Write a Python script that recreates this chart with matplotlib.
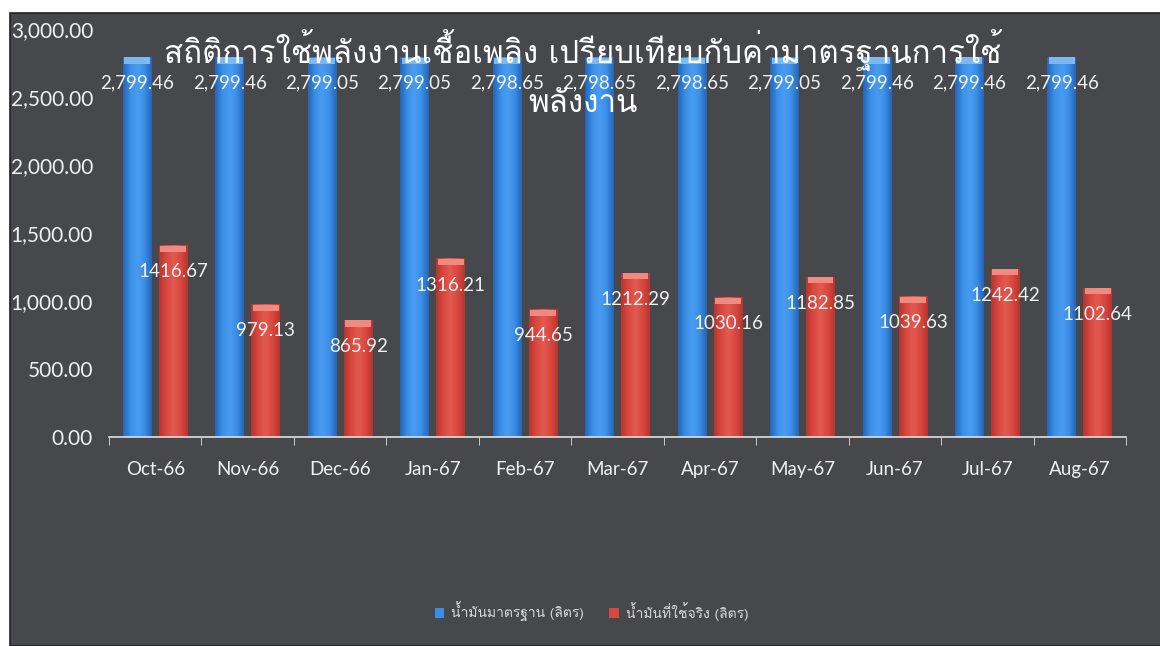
import matplotlib
matplotlib.use('Agg')
import matplotlib.pyplot as plt
import numpy as np
from matplotlib import font_manager
from matplotlib.ft2font import FT2Font
from matplotlib.patches import Rectangle
from matplotlib.colors import LinearSegmentedColormap

months = ['Oct-66', 'Nov-66', 'Dec-66', 'Jan-67', 'Feb-67', 'Mar-67',
          'Apr-67', 'May-67', 'Jun-67', 'Jul-67', 'Aug-67']
standard = [2799.46, 2799.46, 2799.05, 2799.05, 2798.65, 2798.65,
            2798.65, 2799.05, 2799.46, 2799.46, 2799.46]
actual = [1416.67, 979.13, 865.92, 1316.21, 944.65, 1212.29,
          1030.16, 1182.85, 1039.63, 1242.42, 1102.64]
yticks = [0, 500, 1000, 1500, 2000, 2500, 3000]

title_lines = ['สถิติการใช้พลังงานเชื้อเพลิง เปรียบเทียบกับค่ามาตรฐานการใช้', 'พลังงาน']
legend_names = ['น้ำมันมาตรฐาน (ลิตร)', 'น้ำมันที่ใช้จริง (ลิตร)']


# หา font ที่มีอักษรไทย (ชอบแบบมีหัว)
def thai_fonts():
    names = []
    for f in font_manager.fontManager.ttflist:
        try:
            if 0x0E2A in FT2Font(f.fname).get_charmap() and f.name not in names:
                names.append(f.name)
        except Exception:
            pass
    return names


found = thai_fonts()
thai = 'DejaVu Sans'
for pref in ['Loma', 'Garuda', 'Norasi', 'Noto Sans Thai Looped', 'Noto Sans Thai']:
    if pref in found:
        thai = pref
        break
else:
    if found:
        thai = found[0]
thai_fam = [thai, 'DejaVu Sans']
lat_fam = ['Lato', 'DejaVu Sans']

bg = '#46484c'
txt = '#f0f0f0'
blue_cm = LinearSegmentedColormap.from_list('b', ['#2566b8', '#3a8ee6', '#4a9cf0', '#3a8ee6', '#2566b8'])
red_cm = LinearSegmentedColormap.from_list('r', ['#b8352f', '#d9483f', '#e25a50', '#d9483f', '#b8352f'])

fig = plt.figure(figsize=(11.6, 6.46), dpi=100)
fig.patch.set_facecolor('white')
fig.patches.append(Rectangle((10 / 1160, 0), 1, 633 / 646, transform=fig.transFigure,
                             facecolor=bg, edgecolor='#222222', linewidth=1.2, zorder=-10))

ax = fig.add_axes([0.094, 0.3228, 0.8767, 0.6315])
ax.set_facecolor('none')

x = np.arange(len(months))
w = 0.31
off = 0.195
b1 = ax.bar(x - off, standard, w, color='#3a8ee6', zorder=2)
b2 = ax.bar(x + off, actual, w, color='#d9483f', zorder=2)

# ไล่สีให้ดูเป็นทรงกระบอก
grad = np.linspace(0, 1, 64).reshape(1, -1)
for bars, cm, cap in [(b1, blue_cm, '#7db8f2'), (b2, red_cm, '#f08a80')]:
    for r in bars:
        x0, h, bw = r.get_x(), r.get_height(), r.get_width()
        im = ax.imshow(grad, cmap=cm, aspect='auto', extent=(x0, x0 + bw, 0, h), zorder=2.5)
        im.set_clip_path(r)
        ax.bar(x0 + bw / 2, 45, bw * 0.9, bottom=h - 50, color=cap, zorder=3)

for xi, v in zip(x, standard):
    ax.text(xi - off, v - 190, f'{v:,.2f}', ha='center', va='center',
            color=txt, fontsize=13.5, family=lat_fam, zorder=5)
for xi, v in zip(x, actual):
    ax.text(xi + off, v - 195, f'{v:.2f}', ha='center', va='center',
            color=txt, fontsize=13.5, family=lat_fam, zorder=5)

ax.set_xlim(-0.5, len(months) - 0.5)
ax.set_ylim(0, 3000)
ax.set_yticks(yticks)
ax.set_yticklabels([f'{t:,.2f}' for t in yticks], family=lat_fam, fontsize=15, color=txt)
ax.set_xticks(x)
ax.set_xticklabels(months, family=lat_fam, fontsize=13.5, color=txt)
ax.set_xticks(np.arange(len(months) + 1) - 0.5, minor=True)
ax.tick_params(axis='x', which='major', length=0, pad=17)
ax.tick_params(axis='x', which='minor', length=6, color='#e0e0e0', direction='out')
ax.tick_params(axis='y', length=0, pad=11.5)
for s in ['top', 'right', 'left']:
    ax.spines[s].set_visible(False)
ax.spines['bottom'].set_color('#e0e0e0')
ax.spines['bottom'].set_linewidth(1.2)

fig.text(0.5026, 1 - 63 / 646, title_lines[0], ha='center', va='baseline', color='white',
         fontsize=22.5, family=thai_fam, zorder=6)
fig.text(0.5026, 1 - 112 / 646, title_lines[1], ha='center', va='baseline', color='white',
         fontsize=22.5, family=thai_fam, zorder=6)

leg = fig.legend([b1, b2], legend_names, loc='center', bbox_to_anchor=(0.51, 0.053),
                 ncol=2, frameon=False, prop={'family': thai_fam, 'size': 10},
                 handlelength=0.7, handleheight=0.7, columnspacing=1.8, handletextpad=0.5)
for t in leg.get_texts():
    t.set_color('#d8d8d8')

fig.savefig('out.png', dpi=100, facecolor=fig.get_facecolor())
